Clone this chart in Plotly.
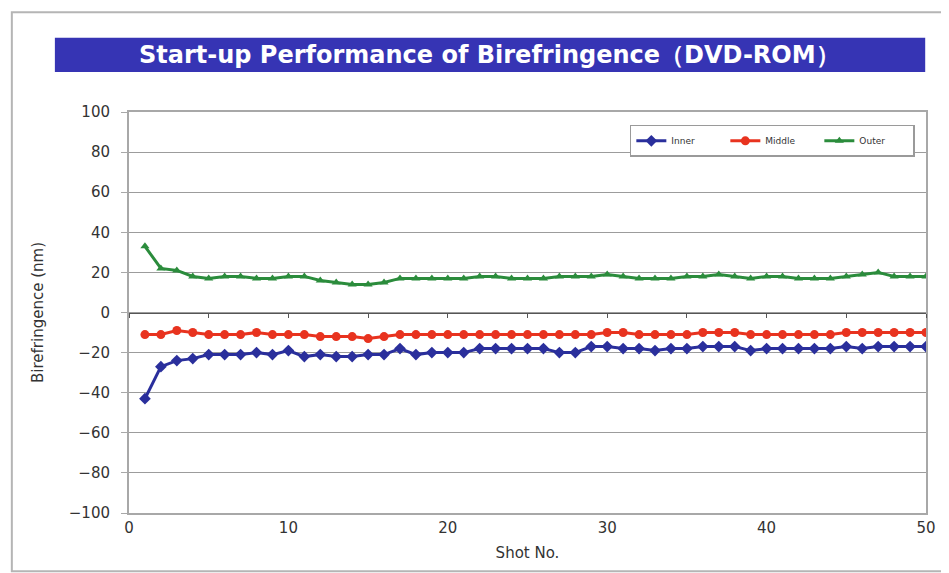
import plotly.graph_objects as go

# Shot numbers and birefringence readings (nm)
shots = list(range(1, 51))

inner = [-43, -27, -24, -23, -21, -21, -21, -20, -21, -19,
         -22, -21, -22, -22, -21, -21, -18, -21, -20, -20,
         -20, -18, -18, -18, -18, -18, -20, -20, -17, -17,
         -18, -18, -19, -18, -18, -17, -17, -17, -19, -18,
         -18, -18, -18, -18, -17, -18, -17, -17, -17, -17]

middle = [-11, -11, -9, -10, -11, -11, -11, -10, -11, -11,
          -11, -12, -12, -12, -13, -12, -11, -11, -11, -11,
          -11, -11, -11, -11, -11, -11, -11, -11, -11, -10,
          -10, -11, -11, -11, -11, -10, -10, -10, -11, -11,
          -11, -11, -11, -11, -10, -10, -10, -10, -10, -10]

outer = [33, 22, 21, 18, 17, 18, 18, 17, 17, 18,
         18, 16, 15, 14, 14, 15, 17, 17, 17, 17,
         17, 18, 18, 17, 17, 17, 18, 18, 18, 19,
         18, 17, 17, 17, 18, 18, 19, 18, 17, 18,
         18, 17, 17, 17, 18, 19, 20, 18, 18, 18]

x_ticks = [0, 10, 20, 30, 40, 50]
y_ticks = [-100, -80, -60, -40, -20, 0, 20, 40, 60, 80, 100]

title_text = "Start-up Performance of Birefringence（DVD-ROM）"

series = [
    ("Inner", inner, "#2a2f9c", "diamond", 9),
    ("Middle", middle, "#e8331f", "circle", 9),
    ("Outer", outer, "#2b8c3c", "triangle-up", 8),
]

fig = go.Figure()

for name, vals, color, symbol, size in series:
    fig.add_trace(go.Scatter(
        x=shots, y=vals, name=name,
        mode="lines+markers",
        line=dict(color=color, width=3),
        marker=dict(color=color, symbol=symbol, size=size),
    ))

# zero line with small tick marks (Excel style axis crossing at 0)
fig.add_trace(go.Scatter(x=[0, 50], y=[0, 0], xaxis="x2", mode="lines",
                         line=dict(color="rgba(0,0,0,0)"), showlegend=False,
                         hoverinfo="skip"))

frame_color = "#a8a8a8"
wide_font = "DejaVu Sans, Verdana, sans-serif"

# outer frame
fig.add_shape(type="rect", xref="paper", yref="paper",
              x0=-0.147, x1=1.023, y0=-0.145, y1=1.249,
              line=dict(color="#b5b5b5", width=2), fillcolor="rgba(0,0,0,0)",
              layer="below")
# title banner
fig.add_shape(type="rect", xref="paper", yref="paper",
              x0=-0.093, x1=0.999, y0=1.100, y1=1.185,
              line=dict(width=0), fillcolor="#3634b4", layer="below")
fig.add_annotation(text="<b>" + title_text + "</b>", xref="paper", yref="paper",
                   x=0.4529, y=1.142, xanchor="center", yanchor="middle",
                   showarrow=False,
                   font=dict(family=wide_font, size=24, color="white"))

# page body has an 8px margin, so the figure is sized 8px smaller
fig.update_layout(
    width=941, height=565,
    margin=dict(l=121, r=23, t=104, b=60),
    paper_bgcolor="white", plot_bgcolor="white",
    font=dict(family=wide_font, color="#333333", size=15),
    showlegend=True,
    legend=dict(orientation="h", x=0.986, xanchor="right", y=0.968, yanchor="top",
                bgcolor="white", bordercolor="#9a9a9a", borderwidth=1.5,
                font=dict(size=9, color="#333333"),
                entrywidth=49, entrywidthmode="pixels", tracegroupgap=0),
    xaxis=dict(range=[0, 50], tickvals=x_ticks, showgrid=False, zeroline=False,
               showline=True, linecolor=frame_color, linewidth=2, mirror=True,
               ticks="", title=dict(text="Shot No.", font=dict(size=15), standoff=11),
               tickfont=dict(size=15)),
    xaxis2=dict(range=[0, 50], overlaying="x", anchor="free", position=0.5,
                dtick=5, tick0=0, ticks="outside", ticklen=4, tickcolor="#555555",
                showline=True, linecolor="#555555", linewidth=1,
                showticklabels=False, showgrid=False, zeroline=False),
    yaxis=dict(range=[-100, 100], tickvals=y_ticks, showgrid=True, gridcolor="#9c9c9c",
               gridwidth=1, zeroline=False, showline=True, linecolor=frame_color,
               linewidth=2, mirror=True, ticks="outside", ticklen=6, tickcolor=frame_color,
               ticklabelstandoff=8,
               tickformat="d", tickfont=dict(size=15),
               title=dict(text="Birefringence (nm)", font=dict(size=15), standoff=22)),
)

fig.write_html("out.html")
